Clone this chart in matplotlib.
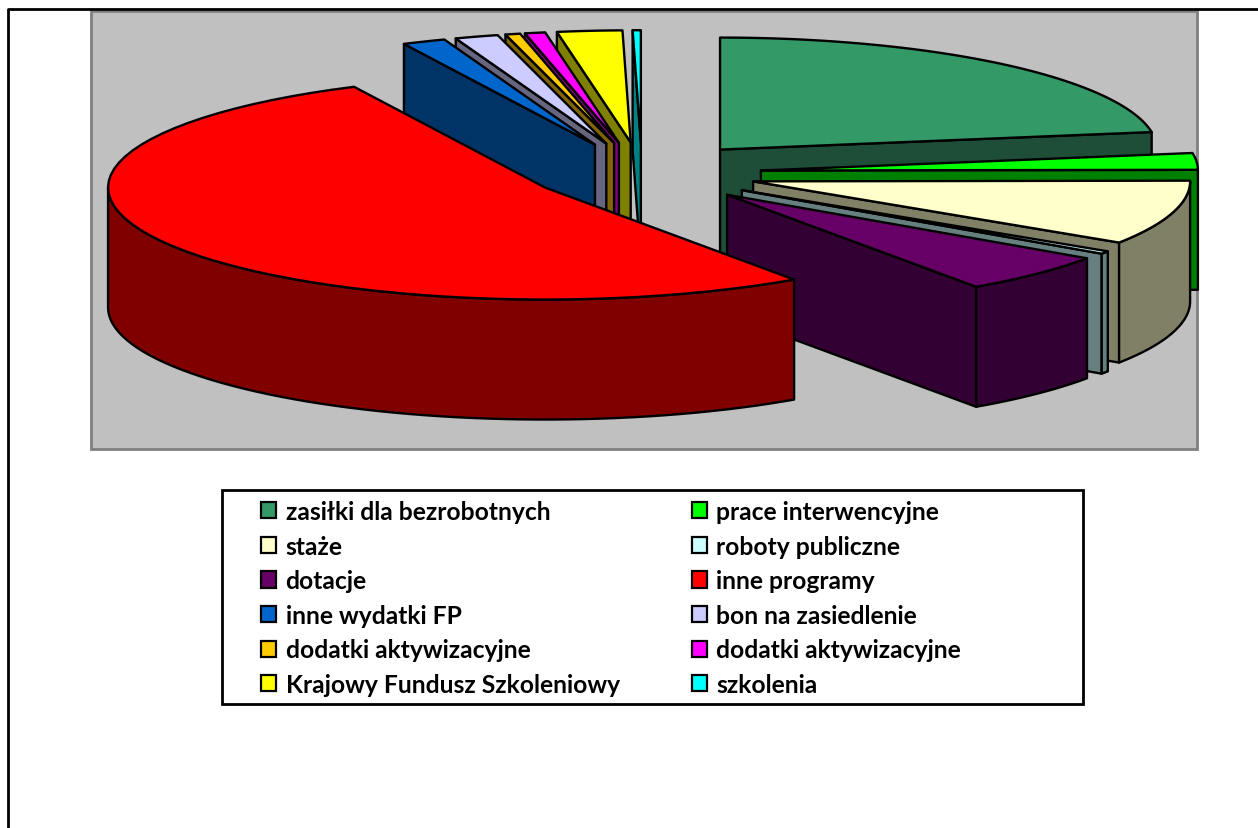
import numpy as np
import matplotlib
matplotlib.use("Agg")
import matplotlib.pyplot as plt
from matplotlib.patches import Patch, Polygon, Rectangle

labels = [
    "zasiłki dla bezrobotnych",
    "prace interwencyjne",
    "staże",
    "roboty publiczne",
    "dotacje",
    "inne programy",
    "inne wydatki FP",
    "bon na zasiedlenie",
    "dodatki aktywizacyjne",
    "dodatki aktywizacyjne",
    "Krajowy Fundusz Szkoleniowy",
    "szkolenia",
]
values = [22.5, 2.4, 9.3, 0.4, 5.75, 52.45, 1.6, 1.6, 0.55, 0.75, 2.4, 0.3]
top_colors = [
    "#339966", "#00FF00", "#FFFFCC", "#CCFFFF", "#660066", "#FF0000",
    "#0066CC", "#CCCCFF", "#FFCC00", "#FF00FF", "#FFFF00", "#00FFFF",
]
side_colors = [
    "#1E4D38", "#008000", "#808066", "#668080", "#330033", "#800000",
    "#003366", "#666680", "#806600", "#800080", "#808000", "#008080",
]
explode = [0.275, 0.273, 0.265, 0.275, 0.275, 0.257, 0.275, 0.275, 0.275, 0.275, 0.275, 0.275]

# back to front, the small slices get covered by the big red one
draw_order = [0, 1, 2, 3, 4, 11, 10, 9, 8, 7, 6, 5]

CX, CY = 642, 174
RX, RY = 437, 112
DEPTH = 120
LW = 1.7


def rim(cx, cy, a0, a1, n=60):
    t = np.radians(np.linspace(a0, a1, n))
    return np.column_stack([cx + RX * np.cos(t), cy - RY * np.sin(t)])


def extrude(pts):
    return np.vstack([pts, pts[::-1] + [0, DEPTH]])


def draw_slice(ax, a0, a1, pull, top, side):
    mid = np.radians((a0 + a1) / 2)
    cx = CX + pull * RX * np.cos(mid)
    cy = CY - pull * RY * np.sin(mid)
    apex = np.array([[cx, cy]])
    style = dict(edgecolor="black", linewidth=LW, joinstyle="round")

    # only the cut faces turned towards the viewer
    if np.cos(np.radians(a0)) < -1e-6:
        face = np.vstack([apex, rim(cx, cy, a0, a0, 1)])
        ax.add_patch(Polygon(extrude(face), facecolor=side, **style))
    if np.cos(np.radians(a1)) > 1e-6:
        face = np.vstack([apex, rim(cx, cy, a1, a1, 1)])
        ax.add_patch(Polygon(extrude(face), facecolor=side, **style))

    # outer wall, lower half of the ellipse only
    hi, lo = min(a0, 0), max(a1, -180)
    if hi > lo:
        ax.add_patch(Polygon(extrude(rim(cx, cy, hi, lo)), facecolor=side, **style))

    ax.add_patch(Polygon(np.vstack([apex, rim(cx, cy, a0, a1)]), facecolor=top, **style))


fig = plt.figure(figsize=(12.58, 8.29), dpi=100)
ax = fig.add_axes([0, 0, 1, 1])
ax.set_xlim(0, 1258)
ax.set_ylim(829, 0)
ax.axis("off")

# chart border runs off the page on the right and bottom
ax.plot([8, 8, 1258], [829, 10, 10], color="black", lw=2)
ax.add_patch(Rectangle((91, 12), 1106, 438, facecolor="#C0C0C0", edgecolor="#808080", lw=2))

sweeps = 360 * np.array(values) / np.sum(values)
ends = 90 - np.cumsum(sweeps)
starts = ends + sweeps
for i in draw_order:
    draw_slice(ax, starts[i], ends[i], explode[i], top_colors[i], side_colors[i])

ax.add_patch(Rectangle((222, 491), 861, 214, facecolor="white", edgecolor="black", lw=2, zorder=3))
handles = [Patch(facecolor=c, edgecolor="black", linewidth=1.6) for c in top_colors]
# legend fills by column, the picture reads by row
order = list(range(0, 12, 2)) + list(range(1, 12, 2))
leg = ax.legend(
    [handles[i] for i in order],
    [labels[i] for i in order],
    ncols=2,
    loc="upper left",
    bbox_to_anchor=(261 / 1258, 1 - 501 / 829),
    bbox_transform=fig.transFigure,
    frameon=False,
    borderpad=0,
    borderaxespad=0,
    prop={"family": "Lato", "weight": "bold", "size": 17.7},
    handlelength=0.63,
    handleheight=0.63,
    handletextpad=0.37,
    labelspacing=0.47,
    columnspacing=2.93,
)
leg.set_zorder(4)

fig.savefig("out.png", dpi=100, facecolor="white")
